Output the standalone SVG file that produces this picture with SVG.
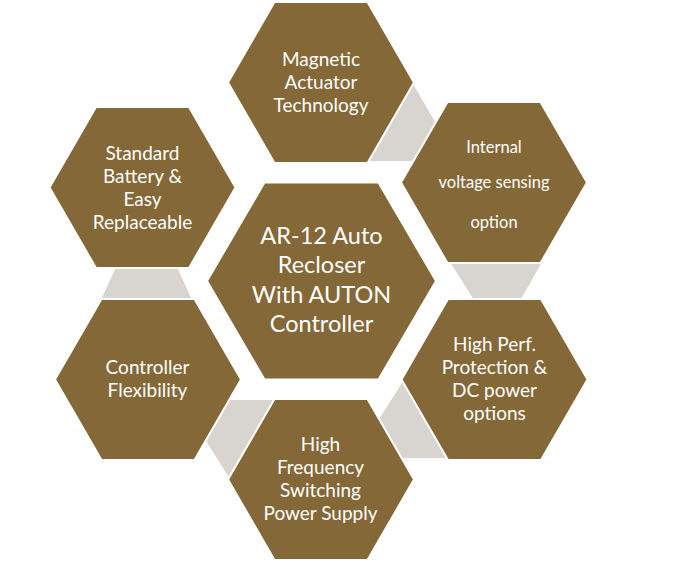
<svg xmlns="http://www.w3.org/2000/svg" width="679" height="563" viewBox="0 0 679 563">
<style>
.hex{fill:#846837;stroke:#ffffff;stroke-width:2;stroke-linejoin:miter}
.con{fill:#D8D4CF}
text{font-family:Lato,"Open Sans","Liberation Sans",sans-serif;fill:#ffffff;text-anchor:middle;font-size:19px}
.big{font-size:23.5px}
.sm{font-size:16.5px}
</style>
<defs>
<polygon id="h" points="-93,0 -46.5,-80.5 46.5,-80.5 93,0 46.5,80.5 -46.5,80.5"/>
</defs>
<rect width="679" height="563" fill="#ffffff"/>
<g id="connectors">
<polygon class="con" points="413,84 441,132 430,161 368,161"/>
<polygon class="con" points="450,262 542,262 520.5,300 474,300"/>
<polygon class="con" points="116,267 177,267 192,300 101,300"/>
<polygon class="con" points="229,400 280,400 250,460 232,482 206,441"/>
<polygon class="con" points="402,383 420,380 452,458 400,458 376,424"/>
</g>
<g id="n-magnetic">
<use href="#h" class="hex" x="321" y="82.5"/>
<text x="321" y="66">Magnetic</text>
<text x="321" y="89">Actuator</text>
<text x="321" y="112">Technology</text>
</g>
<g id="n-internal">
<use href="#h" class="hex" x="494" y="182.5"/>
<text class="sm" x="494" y="153">Internal</text>
<text class="sm" x="494" y="188">voltage sensing</text>
<text class="sm" x="494" y="228">option</text>
</g>
<g id="n-battery">
<use href="#h" class="hex" x="142.5" y="187.5"/>
<text x="142.5" y="160">Standard</text>
<text x="142.5" y="183">Battery &amp;</text>
<text x="142.5" y="206">Easy</text>
<text x="142.5" y="229">Replaceable</text>
</g>
<g id="n-center">
<polygon class="hex" points="207,281 264.5,182.5 378.5,182.5 436,281 378.5,379.5 264.5,379.5"/>
<text class="big" x="321.5" y="244">AR-12 Auto</text>
<text class="big" x="321.5" y="273">Recloser</text>
<text class="big" x="321.5" y="303">With AUTON</text>
<text class="big" x="321.5" y="332">Controller</text>
</g>
<g id="n-controller">
<use href="#h" class="hex" x="148" y="379.5"/>
<text x="147.5" y="374">Controller</text>
<text x="147.5" y="397">Flexibility</text>
</g>
<g id="n-highperf">
<use href="#h" class="hex" x="494.5" y="379.5"/>
<text x="494.5" y="351">High Perf.</text>
<text x="494.5" y="374">Protection &amp;</text>
<text x="494.5" y="397">DC power</text>
<text x="494.5" y="420">options</text>
</g>
<g id="n-highfreq">
<use href="#h" class="hex" x="321" y="479.5"/>
<text x="320.5" y="451">High</text>
<text x="320.5" y="474">Frequency</text>
<text x="320.5" y="497">Switching</text>
<text x="320.5" y="520">Power Supply</text>
</g>
</svg>
